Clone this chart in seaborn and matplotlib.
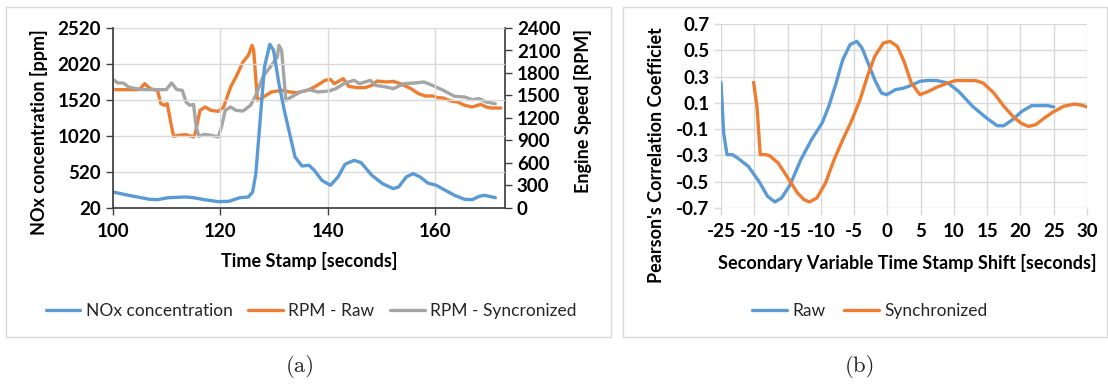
import seaborn as sns
import matplotlib.pyplot as plt
from matplotlib.patches import Rectangle

## (a) NOx and engine speed vs time
nox_time = [100, 102.9, 106.9, 108.3, 110.3, 113.6, 115, 117, 119.6, 121.6, 123.6, 125.2, 126, 126.6,
            127.2, 128.2, 129.2, 129.9, 130.9, 131.9, 132.9, 133.9, 135.2, 136.5, 137.5, 138.9, 140.5,
            141.9, 143.2, 144.9, 146.2, 148.2, 150.2, 152.2, 153.2, 154.6, 155.9, 157.2, 158.6, 160.2,
            161.9, 163.6, 165.5, 166.9, 168.2, 169.2, 171.2]
nox_ppm = [242, 196, 140, 136, 163, 173, 163, 136, 108, 113, 163, 173, 242, 497,
           1052, 1978, 2293, 2210, 1747, 1377, 1052, 728, 603, 613, 543, 404, 335,
           451, 627, 682, 650, 474, 358, 289, 312, 451, 497, 451, 367, 335,
           265, 196, 140, 136, 182, 196, 163]

rpm_raw_time = [100, 102.9, 104.9, 105.9, 106.9, 108.3, 108.9, 109.6, 110.1, 110.8, 111.3, 112.2, 113.6,
                115, 115.3, 116.2, 117.2, 118.2, 119.6, 120.6, 121.9, 122.9, 124.2, 125.2, 125.9, 126.2,
                126.9, 127.5, 129.5, 131.5, 132.9, 134.2, 136.2, 137.5, 139.5, 140.5, 141.2, 142.9, 143.9,
                145.5, 146.9, 148.2, 149.2, 150.9, 152.2, 153.5, 155.5, 156.9, 158.2, 159.5, 160.5, 161.5,
                162.9, 164.2, 165.5, 166.9, 168.5, 169.5, 170.5, 172.2]
rpm_raw = [1578, 1578, 1578, 1658, 1591, 1569, 1391, 1369, 1391, 1124, 955, 969, 978,
           947, 991, 1302, 1347, 1302, 1289, 1347, 1613, 1747, 1946, 2035, 2169, 2102,
           1435, 1458, 1547, 1569, 1547, 1538, 1569, 1613, 1702, 1715, 1658, 1724, 1622,
           1604, 1604, 1635, 1693, 1680, 1689, 1658, 1591, 1524, 1493, 1493, 1471, 1467,
           1427, 1413, 1369, 1347, 1382, 1347, 1333, 1333]

rpm_sync_time = [100, 100.9, 101.9, 102.9, 104.3, 105.6, 108.3, 109.9, 110.9, 111.9, 112.9, 113.6, 114.3,
                 115, 115.5, 116, 117, 118.3, 119.6, 120.2, 120.9, 121.9, 122.9, 124.2, 125.6, 126.6,
                 127.9, 129.5, 130.6, 130.9, 131.4, 132.2, 133.2, 134.9, 136.5, 138.2, 140.2, 141.5,
                 143.2, 144.9, 145.9, 147.9, 148.9, 150.9, 152.2, 154.2, 156.2, 157.9, 159.5, 161.5,
                 163.6, 165.5, 166.9, 168.2, 169.5, 171.2]
rpm_sync = [1715, 1667, 1667, 1613, 1591, 1578, 1578, 1578, 1667, 1578, 1569, 1413, 1369,
            1382, 1080, 955, 982, 969, 947, 1080, 1302, 1347, 1302, 1293, 1369, 1502,
            1747, 1902, 2013, 2169, 2102, 1435, 1480, 1547, 1578, 1547, 1560, 1591,
            1667, 1702, 1658, 1702, 1635, 1613, 1591, 1658, 1667, 1680, 1635, 1569,
            1489, 1480, 1444, 1458, 1413, 1391]

## (b) correlation coefficient vs time shift
raw_shift = [-25, -24.6, -24.1, -23.3, -22.5, -20.9, -19.3, -18, -16.9, -15.9, -14.6, -13, -11.4,
             -9.8, -8.8, -7.7, -6.7, -5.6, -4.6, -3.8, -3, -1.9, -0.9, -0.1, 1.2, 2.5, 3.8, 4.9,
             6.2, 7.5, 9.1, 10.7, 12.8, 14.9, 16.5, 17.5, 18.8, 20.2, 21.7, 23.3, 24.1, 25]
raw_corr = [0.256, -0.129, -0.294, -0.294, -0.32, -0.383, -0.497, -0.611, -0.654, -0.624, -0.522,
            -0.332, -0.18, -0.053, 0.074, 0.251, 0.429, 0.543, 0.568, 0.517, 0.416, 0.276, 0.175,
            0.162, 0.2, 0.213, 0.238, 0.264, 0.271, 0.269, 0.251, 0.188, 0.074, -0.015, -0.074,
            -0.074, -0.028, 0.035, 0.079, 0.079, 0.079, 0.069]

sync_shift = [-20.1, -19.6, -19.1, -18.3, -17.7, -16.4, -15.1, -13.5, -12.5, -11.7, -10.6, -9.3, -8,
              -6.7, -5.4, -4.1, -3, -1.9, -0.6, 0.4, 1.5, 2.5, 3.6, 4.9, 6.2, 7.5, 9.1, 10.2, 11.2,
              13.3, 14.4, 16, 17.5, 19.1, 20.2, 21.2, 22.3, 23.6, 24.9, 26.5, 28.1, 29.1, 30]
sync_corr = [0.256, 0.073, -0.294, -0.294, -0.302, -0.358, -0.459, -0.586, -0.637, -0.654, -0.624,
             -0.51, -0.332, -0.18, -0.04, 0.124, 0.302, 0.454, 0.555, 0.568, 0.53, 0.416, 0.251,
             0.162, 0.188, 0.221, 0.251, 0.269, 0.27, 0.269, 0.251, 0.175, 0.074, -0.015, -0.058,
             -0.079, -0.066, -0.015, 0.03, 0.074, 0.091, 0.084, 0.069]

sns.set_theme(style='white')
plt.rcParams['font.family'] = ['Lato', 'DejaVu Sans']

BLUE = '#5B9BD5'
ORANGE = '#ED7D31'
GREY = '#A5A5A5'
GRID = '#D9D9D9'
W, H = 1108, 385

fig = plt.figure(figsize=(W / 100, H / 100), dpi=100)

def px_axes(left, top, right, bottom):
    return fig.add_axes([left / W, 1 - bottom / H, (right - left) / W, (bottom - top) / H])

# frames around each panel
for x0, x1 in [(6, 611), (623, 1107)]:
    fig.add_artist(Rectangle((x0 / W, 1 - 337 / H), (x1 - x0) / W, (337 - 7) / H,
                             transform=fig.transFigure, fill=False, edgecolor=GRID, lw=1))

tick_font = dict(fontsize=13.5, fontweight='bold', color='black')
label_font = dict(fontsize=13, fontweight='bold', color='black')

## panel (a)
ax = px_axes(113, 28, 505, 208)
sns.lineplot(x=nox_time, y=nox_ppm, ax=ax, color=BLUE, lw=2.4, label='NOx concentration', legend=False)
ax.set_xlim(100, 173)
ax.set_ylim(20, 2520)
ax.set_xticks([100, 120, 140, 160])
ax.set_yticks(range(20, 2521, 500))
ax.grid(True, color=GRID, lw=1)
for s in ['top', 'right']:
    ax.spines[s].set_visible(False)
for s in ['left', 'bottom']:
    ax.spines[s].set_color('#404040')
ax.tick_params(direction='out', length=5, width=1, color='#404040', left=True, bottom=True)
ax.tick_params(axis='x', pad=6)
ax.set_xticklabels(['100', '120', '140', '160'], **tick_font)
ax.set_yticklabels([str(v) for v in range(20, 2521, 500)], **tick_font)
ax.set_xlabel('Time Stamp [seconds]', **label_font)
ax.set_ylabel('NOx concentration [ppm]', **label_font)
ax.xaxis.set_label_coords(0.5, -0.245)
ax.yaxis.set_label_coords(-0.167, 0.42)

ax2 = ax.twinx()
sns.lineplot(x=rpm_raw_time, y=rpm_raw, ax=ax2, color=ORANGE, lw=2.4, label='RPM - Raw', legend=False)
sns.lineplot(x=rpm_sync_time, y=rpm_sync, ax=ax2, color=GREY, lw=2.4, label='RPM - Syncronized', legend=False)
ax2.set_ylim(0, 2400)
ax2.set_yticks(range(0, 2401, 300))
ax2.set_yticklabels([str(v) for v in range(0, 2401, 300)], **tick_font)
ax2.grid(False)
for s in ['top', 'left', 'bottom']:
    ax2.spines[s].set_visible(False)
ax2.spines['right'].set_color('#404040')
ax2.tick_params(direction='out', length=5, width=1, color='#404040', right=True)
ax2.set_ylabel('Engine Speed [RPM]', **label_font)
ax2.yaxis.set_label_coords(1.175, 0.54)
ax.set_zorder(ax2.get_zorder() + 1)
ax.patch.set_visible(False)

h1, l1 = ax.get_legend_handles_labels()
h2, l2 = ax2.get_legend_handles_labels()
fig.legend(h1 + h2, l1 + l2, loc='center', bbox_to_anchor=(311 / W, 1 - 311 / H), ncol=3,
           frameon=False, fontsize=12.5, handlelength=2.0, handletextpad=0.3, columnspacing=0.9)

## panel (b)
bx = px_axes(721, 24, 1087, 208)
sns.lineplot(x=raw_shift, y=raw_corr, ax=bx, color=BLUE, lw=2.4, label='Raw', legend=False)
sns.lineplot(x=sync_shift, y=sync_corr, ax=bx, color=ORANGE, lw=2.4, label='Synchronized', legend=False)
bx.set_xlim(-25, 30)
bx.set_ylim(-0.7, 0.7)
xt = list(range(-25, 31, 5))
yt = [-0.7, -0.5, -0.3, -0.1, 0.1, 0.3, 0.5, 0.7]
bx.set_xticks(xt)
bx.set_yticks(yt)
bx.set_xticklabels([str(v) for v in xt], **tick_font)
bx.set_yticklabels([f'{v:.1f}' for v in yt], **tick_font)
bx.grid(True, color=GRID, lw=1)
for s in bx.spines.values():
    s.set_visible(False)
bx.tick_params(direction='out', length=5, width=1, color=GRID, left=True, bottom=True)
bx.tick_params(axis='x', pad=6)
bx.set_xlabel('Secondary Variable Time Stamp Shift [seconds]', **label_font)
bx.set_ylabel("Pearson's Correlation Coefficiet", **label_font)
bx.xaxis.set_label_coords(0.51, -0.25)
bx.yaxis.set_label_coords(-0.153, 0.29)

hb, lb = bx.get_legend_handles_labels()
fig.legend(hb, lb, loc='center', bbox_to_anchor=(870 / W, 1 - 311 / H), ncol=2,
           frameon=False, fontsize=12.5, handlelength=2.0, handletextpad=0.3, columnspacing=1.1)

# captions
fig.text(300 / W, 1 - 367 / H, '(a)', ha='center', va='center', fontsize=16.5, family='cmr10')
fig.text(860 / W, 1 - 367 / H, '(b)', ha='center', va='center', fontsize=16.5, family='cmr10')

fig.savefig('out.png', dpi=100)
